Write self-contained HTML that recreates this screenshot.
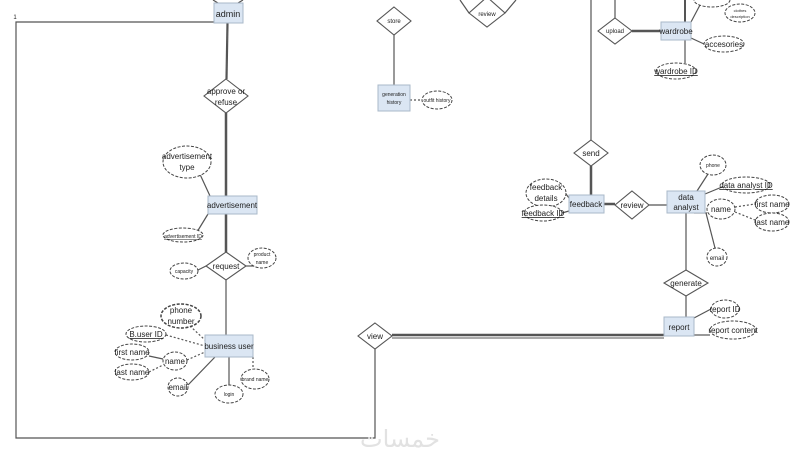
<!DOCTYPE html><html><head><meta charset="utf-8"><style>body{margin:0;background:#fff}svg{display:block}text{font-family:"Liberation Sans",sans-serif;fill:#222;text-anchor:middle}</style></head><body>
<svg width="800" height="460" viewBox="0 0 800 460" xmlns="http://www.w3.org/2000/svg">
<g stroke="#555" stroke-width="1.2" fill="none">
<polyline points="214,22 16,22 16,438 375,438 375,349"/>
<line x1="227" y1="23" x2="226" y2="79"/><line x1="228" y1="23" x2="227" y2="79"/>
<line x1="226" y1="113" x2="226" y2="196" stroke-width="2.5"/>
<line x1="226" y1="214" x2="226" y2="252" stroke-width="2.5"/>
<line x1="226" y1="280" x2="226" y2="335"/>
<line x1="392" y1="335" x2="664" y2="335" stroke-width="2.5"/>
<line x1="392" y1="338" x2="664" y2="338" stroke-width="1"/>
<line x1="591" y1="0" x2="591" y2="140"/>
<line x1="591" y1="166" x2="591" y2="195" stroke-width="2.5"/>
<line x1="604" y1="204" x2="615" y2="204" stroke-width="2.5"/>
<line x1="649" y1="205" x2="667" y2="205"/>
<line x1="686" y1="213" x2="686" y2="270"/>
<line x1="686" y1="296" x2="686" y2="317"/>
<line x1="394" y1="35" x2="394" y2="85"/>
<line x1="410" y1="100" x2="422" y2="100" stroke-dasharray="2,2"/>
<line x1="632" y1="31" x2="661" y2="31" stroke-width="2.5"/>
<line x1="615" y1="18" x2="615" y2="0"/>
<line x1="685" y1="22" x2="685" y2="0" stroke-width="2"/>
<line x1="685" y1="40" x2="685" y2="63"/>
<line x1="691" y1="38" x2="704" y2="44"/>
<line x1="691" y1="22" x2="700" y2="5"/>
<line x1="469" y1="13" x2="460" y2="0"/><line x1="505" y1="13" x2="516" y2="0"/>
<line x1="218" y1="3" x2="213" y2="0"/><line x1="238" y1="3" x2="243" y2="0"/>
<line x1="210" y1="196" x2="198" y2="170"/>
<line x1="208" y1="214" x2="197" y2="232"/>
<line x1="206" y1="266" x2="198" y2="270"/>
<line x1="246" y1="266" x2="262" y2="266"/>
<line x1="190" y1="326" x2="205" y2="340" stroke-dasharray="2,2"/>
<line x1="166" y1="335" x2="205" y2="346" stroke-dasharray="2,2"/>
<line x1="187" y1="360" x2="205" y2="352" stroke-dasharray="2,2"/>
<line x1="149" y1="356" x2="163" y2="359"/>
<line x1="149" y1="372" x2="163" y2="365" stroke-dasharray="2,2"/>
<line x1="188" y1="385" x2="215" y2="357"/>
<line x1="229" y1="357" x2="229" y2="385"/>
<line x1="253" y1="357" x2="253" y2="370" stroke-dasharray="2,2"/>
<line x1="566" y1="194" x2="569" y2="198"/>
<line x1="562" y1="213" x2="569" y2="211"/>
<line x1="697" y1="191" x2="708" y2="174"/>
<line x1="705" y1="194" x2="722" y2="187"/>
<line x1="694" y1="213" x2="707" y2="213"/>
<line x1="735" y1="207" x2="755" y2="204" stroke-dasharray="2,2"/>
<line x1="735" y1="212" x2="755" y2="220" stroke-dasharray="2,2"/>
<line x1="706" y1="213" x2="715" y2="248"/>
<line x1="694" y1="318" x2="711" y2="309"/>
<line x1="694" y1="335" x2="710" y2="335"/>
</g>
<g fill="#dbe6f3" stroke="#aab8c8">
<rect x="214" y="3" width="29" height="20"/>
<rect x="208" y="196" width="49" height="18"/>
<rect x="205" y="335" width="48" height="22"/>
<rect x="378" y="85" width="32" height="26"/>
<rect x="569" y="195" width="35" height="18"/>
<rect x="667" y="191" width="38" height="22"/>
<rect x="664" y="317" width="30" height="19"/>
<rect x="661" y="22" width="30" height="18"/>
</g>
<g fill="#fff" stroke="#555" stroke-width="1.1">
<polygon points="226,79 248,96 226,113 204,96"/>
<polygon points="226,252 246,266 226,280 206,266"/>
<polygon points="375,323 392,336 375,349 358,336"/>
<polygon points="394,7 411,21 394,35 377,21"/>
<polygon points="487,-3 505,13 487,27 469,13"/>
<polygon points="591,140 608,153 591,166 574,153"/>
<polygon points="632,191 649,205 632,219 615,205"/>
<polygon points="686,270 708,283 686,296 664,283"/>
<polygon points="615,18 632,31 615,44 598,31"/>
</g>
<g fill="#fff" stroke="#444" stroke-dasharray="3,1.5">
<ellipse cx="187" cy="162" rx="24" ry="16"/>
<ellipse cx="183" cy="235" rx="20" ry="7"/>
<ellipse cx="262" cy="258" rx="14" ry="10"/>
<ellipse cx="184" cy="271" rx="14" ry="8"/>
<ellipse cx="181" cy="316" rx="20" ry="12" stroke-width="1.5"/>
<ellipse cx="146" cy="334" rx="20" ry="8"/>
<ellipse cx="132" cy="352" rx="17" ry="8"/>
<ellipse cx="132" cy="372" rx="17" ry="8"/>
<ellipse cx="175" cy="361" rx="12" ry="9"/>
<ellipse cx="178" cy="387" rx="10" ry="9"/>
<ellipse cx="229" cy="394" rx="14" ry="9"/>
<ellipse cx="255" cy="379" rx="14" ry="10"/>
<ellipse cx="437" cy="100" rx="15" ry="9"/>
<ellipse cx="546" cy="193" rx="20" ry="14"/>
<ellipse cx="543" cy="213" rx="19" ry="8"/>
<ellipse cx="713" cy="165" rx="13" ry="10"/>
<ellipse cx="746" cy="185" rx="24" ry="8"/>
<ellipse cx="721" cy="209" rx="14" ry="10"/>
<ellipse cx="772" cy="204" rx="17" ry="9"/>
<ellipse cx="772" cy="222" rx="17" ry="9"/>
<ellipse cx="717" cy="257" rx="10" ry="9"/>
<ellipse cx="725" cy="309" rx="14" ry="9"/>
<ellipse cx="733" cy="330" rx="23" ry="9"/>
<ellipse cx="724" cy="44" rx="20" ry="8"/>
<ellipse cx="676" cy="71" rx="20" ry="8"/>
<ellipse cx="740" cy="13" rx="15" ry="9"/>
<ellipse cx="712" cy="0" rx="18" ry="7"/>
</g>
<g font-size="9">
<text x="228" y="17">admin</text>
<text x="226" y="94" font-size="8">approve or</text><text x="226" y="105" font-size="8">refuse</text>
<text x="187" y="159" font-size="8">advertisement</text><text x="187" y="170" font-size="8">type</text>
<text x="232" y="208" font-size="8">advertisement</text>
<text x="183" y="238" font-size="5" text-decoration="underline">advertisement ID</text>
<text x="226" y="269" font-size="8">request</text>
<text x="262" y="256" font-size="5">product</text><text x="262" y="264" font-size="5">name</text>
<text x="184" y="273" font-size="5">capacity</text>
<text x="229" y="349" font-size="8">business user</text>
<text x="181" y="313" font-size="8">phone</text><text x="181" y="324" font-size="8">number</text>
<text x="146" y="337" font-size="8" text-decoration="underline">B.user ID</text>
<text x="132" y="355" font-size="8">first name</text>
<text x="132" y="375" font-size="8">last name</text>
<text x="175" y="364" font-size="8">name</text>
<text x="178" y="390" font-size="8">email</text>
<text x="229" y="396" font-size="5">login</text>
<text x="255" y="381" font-size="5">brand name</text>
<text x="375" y="339" font-size="8">view</text>
<text x="394" y="23" font-size="6">store</text>
<text x="394" y="96" font-size="5">generation</text><text x="394" y="104" font-size="5">history</text>
<text x="437" y="102" font-size="5">outfit history</text>
<text x="487" y="16" font-size="6">review</text>
<text x="591" y="156" font-size="8">send</text>
<text x="586" y="207" font-size="8">feedback</text>
<text x="546" y="190" font-size="8">feedback</text><text x="546" y="201" font-size="8">details</text>
<text x="543" y="216" font-size="8" text-decoration="underline">feedback ID</text>
<text x="632" y="208" font-size="8">review</text>
<text x="686" y="200" font-size="8">data</text><text x="686" y="210" font-size="8">analyst</text>
<text x="713" y="167" font-size="5">phone</text>
<text x="746" y="188" font-size="8" text-decoration="underline">data analyst ID</text>
<text x="721" y="212" font-size="8">name</text>
<text x="772" y="207" font-size="8">first name</text>
<text x="772" y="225" font-size="8">last name</text>
<text x="717" y="260" font-size="6">email</text>
<text x="686" y="286" font-size="8">generate</text>
<text x="679" y="330" font-size="8">report</text>
<text x="725" y="312" font-size="8">report ID</text>
<text x="733" y="333" font-size="8">report content</text>
<text x="615" y="33" font-size="6">upload</text>
<text x="676" y="34" font-size="8">wardrobe</text>
<text x="724" y="47" font-size="8">accesories</text>
<text x="676" y="74" font-size="8" text-decoration="underline">wardrobe ID</text>
<text x="740" y="12" font-size="4">clothes</text><text x="740" y="18" font-size="4">description</text>
<text x="15" y="19" font-size="6">1</text>
</g>
<text x="400" y="447" font-size="24" style="font-family:'Liberation Sans','DejaVu Sans',sans-serif;fill:#e2e2e2">خمسات</text>
</svg>
</body></html>
